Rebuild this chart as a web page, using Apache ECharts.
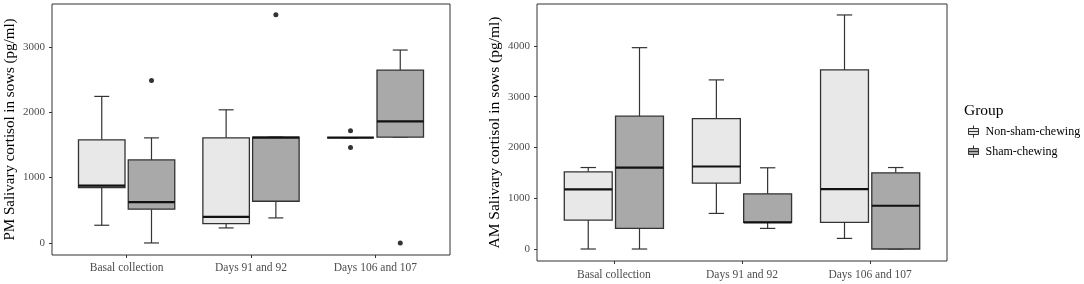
<!DOCTYPE html>
<html>
<head>
<meta charset="utf-8">
<script src="https://cdn.jsdelivr.net/npm/echarts@6/dist/echarts.min.js"></script>
<style>
  html, body { margin: 0; padding: 0; background: #fff; }
  #chart { width: 1084px; height: 284px; }
</style>
</head>
<body>
<div id="chart"></div>
<script>
const categories = ['Basal collection', 'Days 91 and 92', 'Days 106 and 107'];
const groups = ['Non-sham-chewing', 'Sham-chewing'];
const yTicksPM = [0, 1000, 2000, 3000];
const yTicksAM = [0, 1000, 2000, 3000, 4000];

// [lower whisker, q1, median, q3, upper whisker] per category
const pmNonSham = [[271, 848, 878, 1577, 2241], [230, 296, 398, 1607, 2036], [1610, 1610, 1610, 1610, 1610]];
const pmSham = [[0, 516, 623, 1270, 1607], [383, 638, 1610, 1618, 1618], [1618, 1618, 1858, 2643, 2950]];
// [category index, value]
const pmNonShamOut = [[2, 1714], [2, 1460]];
const pmShamOut = [[0, 2485], [1, 3490], [2, 0]];

const amNonSham = [[0, 570, 1173, 1521, 1605], [701, 1298, 1625, 2570, 3331], [209, 524, 1180, 3527, 4610]];
const amSham = [[0, 405, 1605, 2616, 3966], [406, 524, 524, 1088, 1600], [0, 0, 852, 1501, 1605]];

const DODGE = 0.2;      // offset of each group from the category centre
const BOX_HALF = 0.187; // half box width, axis units
const CAP_HALF = 0.06;  // half whisker cap width
const FONT = '"Liberation Serif", "DejaVu Serif", serif';

function renderBox(params, api) {
    const x = api.value(0);
    const lo = api.value(1), q1 = api.value(2), med = api.value(3), q3 = api.value(4), hi = api.value(5);
    const c = (dx, v) => api.coord([x + dx, v]);
    const line = (a, b, w, col) => ({
        type: 'line',
        shape: { x1: a[0], y1: a[1], x2: b[0], y2: b[1] },
        style: { stroke: col || '#333', lineWidth: w }
    });
    const tl = c(-BOX_HALF, q3), br = c(BOX_HALF, q1);
    return {
        type: 'group',
        children: [
            line(c(0, q3), c(0, hi), 1.2),
            line(c(-CAP_HALF, hi), c(CAP_HALF, hi), 1.2),
            line(c(0, q1), c(0, lo), 1.2),
            line(c(-CAP_HALF, lo), c(CAP_HALF, lo), 1.2),
            {
                type: 'rect',
                shape: { x: tl[0], y: tl[1], width: br[0] - tl[0], height: br[1] - tl[1] },
                style: { fill: api.visual('color'), stroke: '#333', lineWidth: 1.3 }
            },
            line(c(-BOX_HALF, med), c(BOX_HALF, med), 2.2, '#111')
        ]
    };
}

function boxSeries(name, stats, dx, gi, color) {
    return {
        name: name,
        type: 'custom',
        xAxisIndex: gi,
        yAxisIndex: gi,
        itemStyle: { color: color },
        renderItem: renderBox,
        encode: { x: 0, y: [1, 2, 3, 4, 5] },
        data: stats.map((d, i) => [i + 1 + dx].concat(d)),
        z: 2
    };
}

function outSeries(pts, dx, gi) {
    return {
        name: 'outliers',
        type: 'scatter',
        xAxisIndex: gi,
        yAxisIndex: gi,
        symbolSize: 5,
        itemStyle: { color: '#000' },
        data: pts.map(p => [p[0] + 1 + dx, p[1]]),
        z: 3
    };
}

function xAxis(gi, margin) {
    return {
        type: 'value',
        gridIndex: gi,
        position: 'bottom',
        min: 0.4,
        max: 3.6,
        axisLine: { show: false, onZero: false },
        splitLine: { show: false },
        axisTick: { show: true, length: 3, customValues: [1, 2, 3], lineStyle: { color: '#333' } },
        axisLabel: {
            customValues: [1, 2, 3],
            formatter: v => categories[Math.round(v) - 1],
            color: '#4d4d4d', fontSize: 11.5, fontFamily: FONT, margin: margin
        }
    };
}

function yAxis(gi, min, max, ticks, name, nameSize) {
    return {
        type: 'value',
        gridIndex: gi,
        min: min,
        max: max,
        name: name,
        nameLocation: 'middle',
        nameRotate: 90,
        nameGap: 34,
        nameTextStyle: { fontFamily: FONT, fontSize: nameSize, color: '#000' },
        axisLine: { show: false, onZero: false },
        splitLine: { show: false },
        axisTick: { show: true, length: 3, customValues: ticks, lineStyle: { color: '#333' } },
        axisLabel: {
            customValues: ticks,
            formatter: v => String(v),
            color: '#4d4d4d', fontSize: 11, fontFamily: FONT, margin: 7
        }
    };
}

const chart = echarts.init(document.getElementById('chart'), null, { renderer: 'canvas' });
chart.setOption({
    backgroundColor: '#fff',
    animation: false,
    title: {
        text: 'Group',
        left: 964,
        top: 103,
        padding: 0,
        textStyle: { fontFamily: FONT, fontSize: 15.5, fontWeight: 'normal', color: '#000' }
    },
    legend: {
        data: groups,
        orient: 'vertical',
        left: 968,
        top: 125,
        padding: 0,
        itemWidth: 10,
        itemHeight: 12,
        itemGap: 7,
        icon: 'path://M5,0L5,3M0,3L10,3L10,9L0,9ZM0,6L10,6M5,9L5,12',
        itemStyle: { borderColor: '#333', borderWidth: 1 },
        textStyle: { fontFamily: FONT, fontSize: 12, color: '#000', padding: [0, 0, 0, 2] }
    },
    grid: [
        { left: 52, top: 4, width: 398, height: 251, show: true, borderColor: '#333', borderWidth: 1, backgroundColor: '#fff' },
        { left: 537, top: 4, width: 410, height: 257, show: true, borderColor: '#333', borderWidth: 1, backgroundColor: '#fff' }
    ],
    xAxis: [xAxis(0, 7), xAxis(1, 8)],
    yAxis: [
        yAxis(0, -184, 3654, yTicksPM, 'PM Salivary cortisol in sows (pg/ml)', 15),
        yAxis(1, -236, 4826, yTicksAM, 'AM Salivary cortisol in sows (pg/ml)', 15.5)
    ],
    series: [
        boxSeries(groups[0], pmNonSham, -DODGE, 0, '#e8e8e8'),
        boxSeries(groups[1], pmSham, DODGE, 0, '#a9a9a9'),
        outSeries(pmNonShamOut, -DODGE, 0),
        outSeries(pmShamOut, DODGE, 0),
        boxSeries(groups[0], amNonSham, -DODGE, 1, '#e8e8e8'),
        boxSeries(groups[1], amSham, DODGE, 1, '#a9a9a9')
    ]
});
</script>
</body>
</html>
